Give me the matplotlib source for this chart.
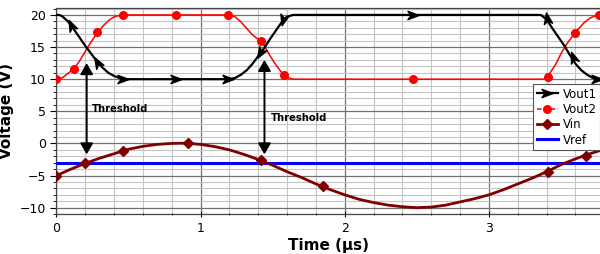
import matplotlib
matplotlib.use("Agg")
import matplotlib.pyplot as plt
from matplotlib.markers import MarkerStyle
from matplotlib.path import Path
from matplotlib.transforms import Affine2D
from matplotlib.lines import Line2D
from matplotlib.ticker import MultipleLocator

# ---------------- data ----------------
vout1_t = [0.00, 0.02, 0.04, 0.08, 0.12, 0.16, 0.20, 0.24, 0.28, 0.32, 0.36, 0.40, 0.44, 0.48,
           1.20, 1.24, 1.28, 1.32, 1.36, 1.40, 1.44, 1.48, 1.52, 1.56, 1.60, 1.64,
           3.36, 3.40, 3.44, 3.48, 3.52, 3.56, 3.60, 3.64, 3.68, 3.72, 3.76, 3.80]
vout1_v = [20.0, 20.0, 19.8, 19.0, 17.8, 16.5, 15.2, 14.0, 12.8, 11.8, 11.0, 10.5, 10.15, 10.0,
           10.0, 10.2, 10.7, 11.4, 12.4, 13.6, 14.8, 16.2, 17.5, 18.8, 19.7, 20.0,
           20.0, 19.3, 17.9, 16.6, 15.3, 13.8, 12.4, 11.4, 10.7, 10.2, 10.0, 10.0]
vout1_mark_t = [0.10, 0.28, 0.46, 0.83, 1.19, 1.41, 1.57, 2.47, 3.40, 3.58, 3.75]
vout1_mark_v = [18.4, 12.7, 10.0, 10.0, 10.0, 14.0, 19.2, 20.0, 19.5, 13.4, 10.0]
vout1_mark_angle = [115, 120, 0, 0, 0, 240, 255, 0, 100, 110, 0]

vout2_t = [0.00, 0.04, 0.08, 0.12, 0.16, 0.20, 0.24, 0.28, 0.32, 0.36, 0.40, 0.44, 0.48,
           1.20, 1.24, 1.28, 1.32, 1.36, 1.40, 1.44, 1.48, 1.52, 1.56, 1.60, 1.64,
           3.38, 3.42, 3.46, 3.50, 3.54, 3.58, 3.62, 3.66, 3.70, 3.74, 3.80]
vout2_v = [10.0, 10.2, 10.9, 11.6, 12.8, 14.3, 15.8, 17.1, 18.2, 19.1, 19.7, 19.95, 20.0,
           20.0, 19.7, 18.9, 17.9, 16.9, 16.2, 15.3, 13.7, 12.3, 11.1, 10.3, 10.0,
           10.0, 10.9, 12.2, 14.0, 15.5, 16.7, 17.8, 18.8, 19.5, 19.9, 20.0]
vout2_mark_t = [0.00, 0.12, 0.285, 0.465, 0.83, 1.19, 1.42, 1.58, 2.47, 3.41, 3.60, 3.76]
vout2_mark_v = [10.0, 11.6, 17.3, 20.0, 20.0, 20.0, 15.9, 10.6, 10.0, 10.4, 17.2, 20.0]

vin_t = [0.0, 0.1, 0.2, 0.3, 0.4, 0.5, 0.6, 0.7, 0.8, 0.9, 1.0, 1.1, 1.2, 1.3, 1.4, 1.5,
         1.6, 1.7, 1.8, 1.9, 2.0, 2.1, 2.2, 2.3, 2.4, 2.5, 2.6, 2.7, 2.8, 2.9, 3.0, 3.1,
         3.2, 3.3, 3.4, 3.5, 3.6, 3.7, 3.8]
vin_v = [-5.0, -4.0, -3.1, -2.3, -1.6, -0.9, -0.45, -0.15, 0.0, 0.05, -0.15, -0.5, -1.0,
         -1.7, -2.5, -3.4, -4.4, -5.3, -6.3, -7.2, -8.0, -8.7, -9.2, -9.6, -9.85, -10.0,
         -9.9, -9.6, -9.1, -8.6, -8.0, -7.2, -6.3, -5.4, -4.4, -3.3, -2.4, -1.6, -0.9]
vin_mark_t = [0.0, 0.2, 0.46, 0.91, 1.42, 1.85, 3.41, 3.67]
vin_mark_v = [-5.0, -3.1, -1.1, 0.05, -2.6, -6.7, -4.4, -2.0]

vref_level = -3.0

threshold_t = [0.21, 1.443]
threshold_top = [12.5, 13.0]
threshold_bottom = [-1.7, -1.7]
threshold_label_pos = [(0.245, 5.3), (1.49, 3.9)]

xticks = [0, 1, 2, 3]
yticks = [-10, -5, 0, 5, 10, 15, 20]

# ---------------- styling ----------------
BLACK = "#000000"
RED = "#ff0000"
DARKRED = "#800000"
BLUE = "#0000ff"

arrow_path = Path([(1.0, 0.0), (-1.0, 0.75), (-0.45, 0.0), (-1.0, -0.75), (1.0, 0.0)],
                  [Path.MOVETO, Path.LINETO, Path.LINETO, Path.LINETO, Path.CLOSEPOLY])


def arrow_marker(angle):
    return MarkerStyle(arrow_path, transform=Affine2D().rotate_deg(angle))


fig = plt.figure(figsize=(6.0, 2.54), dpi=100)
ax = fig.add_axes([0.094, 0.157, 0.906, 0.812])

ax.set_xlim(0, 3.77)
ax.set_ylim(-11, 21.1)

# grid
ax.xaxis.set_major_locator(MultipleLocator(1))
ax.xaxis.set_minor_locator(MultipleLocator(0.2))
ax.yaxis.set_major_locator(MultipleLocator(5))
ax.yaxis.set_minor_locator(MultipleLocator(1))
ax.grid(which="minor", color="#c4c4c4", lw=0.8)
ax.grid(which="major", color="#707070", lw=0.9)
ax.set_axisbelow(True)

# series
ax.axhline(vref_level, color=BLUE, lw=2.2, zorder=3)
ax.plot(vin_t, vin_v, color=DARKRED, lw=2.0, zorder=4)
ax.plot(vin_mark_t, vin_mark_v, ls="none", marker="D", ms=5, color=DARKRED, zorder=5)

ax.plot(vout2_t, vout2_v, color=RED, lw=1.1, zorder=4)
ax.plot(vout2_mark_t, vout2_mark_v, ls="none", marker="o", ms=5.5, color=RED, zorder=5)

ax.plot(vout1_t, vout1_v, color=BLACK, lw=1.6, zorder=4)
for t, v, a in zip(vout1_mark_t, vout1_mark_v, vout1_mark_angle):
    ax.plot([t], [v], ls="none", marker=arrow_marker(a), ms=8, color=BLACK, zorder=6)

# threshold arrows
for t, top, bot in zip(threshold_t, threshold_top, threshold_bottom):
    ax.annotate("", xy=(t, top), xytext=(t, bot),
                arrowprops=dict(arrowstyle="<|-|>,head_length=0.55,head_width=0.32",
                                mutation_scale=12, lw=1.4, color=BLACK,
                                shrinkA=0, shrinkB=0), zorder=7)
for (x, y) in threshold_label_pos:
    ax.text(x, y, "Threshold", fontsize=7.2, fontweight="bold", va="center", ha="left",
            zorder=7)

# axes
ax.set_xticks(xticks)
ax.set_yticks(yticks)
ax.set_yticklabels(["\u221210", "\u22125", "0", "5", "10", "15", "20"])
ax.tick_params(axis="both", which="major", labelsize=9, length=4, width=0.8)
ax.tick_params(axis="both", which="minor", length=2, width=0.6)
ax.tick_params(axis="x", which="both", direction="inout")
ax.tick_params(axis="y", which="both", direction="out")
ax.spines["right"].set_visible(False)
for s in ["left", "bottom", "top"]:
    ax.spines[s].set_color("#444444")
    ax.spines[s].set_linewidth(0.9)

ax.set_xlabel("Time (\u03bcs)", fontsize=11, fontweight="bold", labelpad=2)
ax.set_ylabel("Voltage (V)", fontsize=11, fontweight="bold", labelpad=4)

# legend
handles = [
    Line2D([], [], color=BLACK, lw=1.6, marker=arrow_marker(0), ms=8),
    Line2D([], [], color=RED, lw=1.1, ls=(0, (3, 1.5)), marker="o", ms=5.5),
    Line2D([], [], color=DARKRED, lw=2.0, marker="D", ms=5),
    Line2D([], [], color=BLUE, lw=2.2),
]
leg = ax.legend(handles, ["Vout1", "Vout2", "Vin", "Vref"], loc="upper left",
                bbox_to_anchor=(0.877, 0.631), borderaxespad=0, fontsize=8.5,
                fancybox=False, framealpha=1, edgecolor="#555555",
                handlelength=1.8, handletextpad=0.4, borderpad=0.3, labelspacing=0.2)
leg.get_frame().set_linewidth(0.8)
leg.set_zorder(10)

fig.savefig("out.png", dpi=100)
